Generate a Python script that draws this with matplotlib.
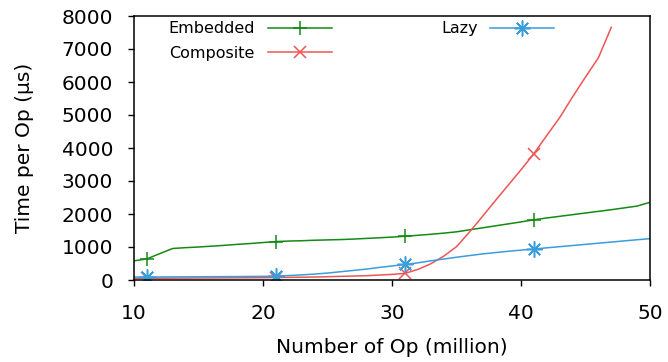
import matplotlib
matplotlib.use("Agg")
import matplotlib.pyplot as plt

x_ops = list(range(10, 51))
x_composite = list(range(10, 48))

embedded = [580, 640, 800, 955, 980, 1000, 1025, 1050, 1080, 1105, 1135,
            1165, 1180, 1190, 1205, 1215, 1225, 1240, 1260, 1280, 1300,
            1325, 1355, 1385, 1420, 1460, 1520, 1580, 1640, 1700, 1760,
            1825, 1880, 1930, 1980, 2030, 2080, 2130, 2185, 2240, 2355]

lazy = [90, 90, 92, 94, 96, 98, 100, 102, 104, 107, 110,
        120, 135, 155, 180, 210, 250, 290, 330, 380, 425,
        470, 520, 580, 635, 690, 740, 790, 830, 870, 905,
        940, 975, 1010, 1045, 1080, 1115, 1150, 1185, 1220, 1252]

composite = [50, 52, 54, 56, 58, 60, 62, 64, 66, 68, 70,
             75, 80, 85, 90, 100, 110, 120, 130, 150, 170,
             200, 320, 490, 720, 1010, 1450, 1920, 2400, 2870, 3340,
             3830, 4380, 4922, 5550, 6150, 6734, 7657]

x_ticks = [10, 20, 30, 40, 50]
y_ticks = [0, 1000, 2000, 3000, 4000, 5000, 6000, 7000, 8000]

c_emb = "#138a13"
c_comp = "#ee5555"
c_lazy = "#3a9ddc"

fig = plt.figure(figsize=(6.68, 3.62), dpi=100)
ax = fig.add_axes([134/668, 1-280/362, (650-134)/668, (280-16)/362])

ax.plot(x_ops, embedded, color=c_emb, lw=1.1, marker='+', ms=10, mew=1.1,
        markevery=(1, 10), label="Embedded")
ax.plot(x_composite, composite, color=c_comp, lw=1.1, marker='x', ms=8.5, mew=1.1,
        markevery=(1, 10), label="Composite")
ax.plot(x_ops, lazy, color=c_lazy, lw=1.1, marker=(8, 2, 0), ms=11.5, mew=1.1,
        markevery=(1, 10), label="Lazy")

ax.set_xlim(10, 50)
ax.set_ylim(0, 8000)
ax.set_xticks(x_ticks)
ax.set_yticks(y_ticks)
ax.tick_params(direction='out', length=4.5, width=1, labelsize=14.5, top=False, right=False)
ax.tick_params(axis='y', pad=10.5)
ax.tick_params(axis='x', pad=12.5)
for s in ax.spines.values():
    s.set_linewidth(1.1)

ax.set_xlabel("Number of Op (million)", fontsize=14.5, labelpad=11)
ax.set_ylabel("Time per Op (µs)", fontsize=14.5, labelpad=20)

leg = ax.legend(ncol=2, loc='upper left', bbox_to_anchor=(0.039, 1.035),
                frameon=False, markerfirst=False, fontsize=11.5,
                handlelength=4.0, columnspacing=6.85, labelspacing=0.62,
                handletextpad=0.8)

fig.savefig("out.png", dpi=100)
